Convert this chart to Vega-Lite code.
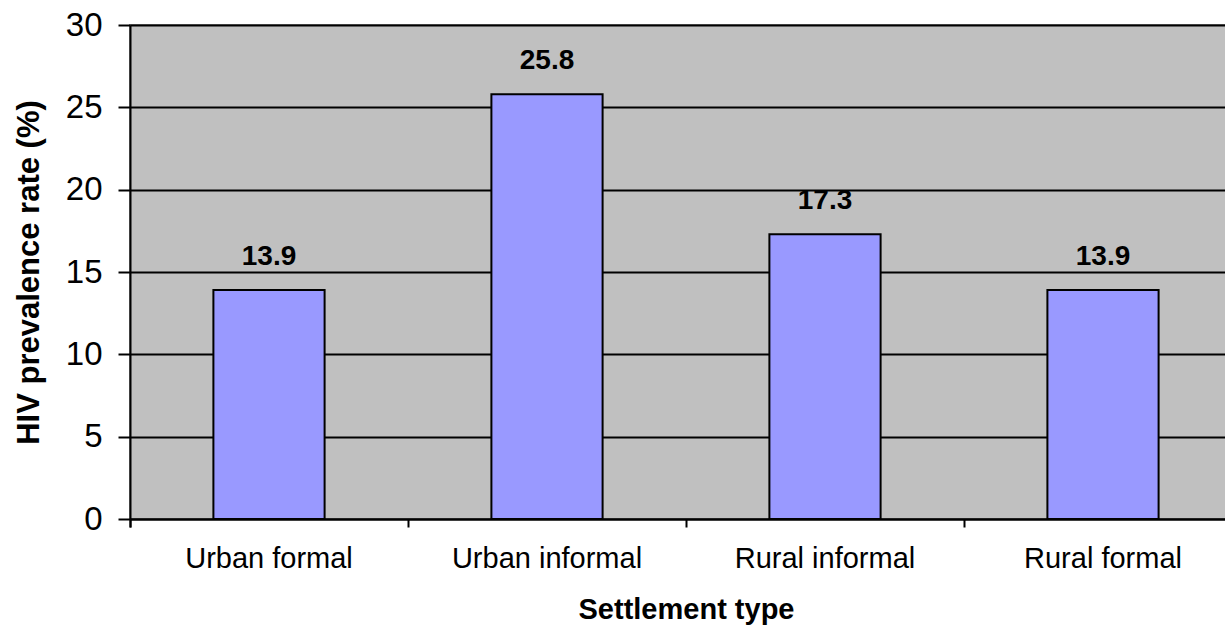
{
  "$schema": "https://vega.github.io/schema/vega-lite/v6.json",
  "width": 1112,
  "height": 494,
  "autosize": {"type": "none"},
  "padding": {"left": 130, "top": 25, "right": 0, "bottom": 111},
  "background": "white",
  "config": {
    "font": "Liberation Sans",
    "view": {"fill": "#C0C0C0", "stroke": "#808080", "strokeWidth": 2}
  },
  "data": {
    "values": [
      {"settlement": "Urban formal", "rate": 13.9},
      {"settlement": "Urban informal", "rate": 25.8},
      {"settlement": "Rural informal", "rate": 17.3},
      {"settlement": "Rural formal", "rate": 13.9}
    ]
  },
  "encoding": {
    "x": {
      "field": "settlement",
      "type": "nominal",
      "sort": null,
      "scale": {"paddingInner": 0, "paddingOuter": 0},
      "axis": {
        "title": "Settlement type",
        "titleFont": "Liberation Sans",
        "titleFontSize": 29,
        "titleFontWeight": "bold",
        "titleColor": "black",
        "titlePadding": 22,
        "labelAngle": 0,
        "labelFont": "Liberation Sans",
        "labelFontSize": 29,
        "labelColor": "black",
        "labelPadding": 17,
        "labelLimit": 0,
        "bandPosition": 0,
        "tickExtra": true,
        "tickSize": 8,
        "tickWidth": 2,
        "tickColor": "black",
        "domainColor": "black",
        "domainWidth": 2,
        "grid": false
      }
    },
    "y": {
      "field": "rate",
      "type": "quantitative",
      "scale": {"domain": [0, 30]},
      "axis": {
        "title": "HIV prevalence rate (%)",
        "titleFont": "Liberation Sans",
        "titleFontSize": 31,
        "titleFontWeight": "bold",
        "titleColor": "black",
        "titlePadding": 20,
        "titleLimit": 0,
        "values": [0, 5, 10, 15, 20, 25, 30],
        "labelFont": "Liberation Sans",
        "labelFontSize": 33,
        "labelColor": "black",
        "labelPadding": 16,
        "tickSize": 12,
        "tickWidth": 2,
        "tickColor": "black",
        "domainColor": "black",
        "domainWidth": 2,
        "grid": true,
        "gridColor": "black",
        "gridWidth": 2,
        "gridOpacity": 1
      }
    }
  },
  "layer": [
    {
      "mark": {"type": "bar", "fill": "#9999FF", "stroke": "black", "strokeWidth": 2, "width": {"band": 0.4}}
    },
    {
      "mark": {
        "type": "text",
        "font": "Liberation Sans",
        "fontSize": 28,
        "fontWeight": "bold",
        "color": "black",
        "baseline": "alphabetic",
        "dy": -25
      },
      "encoding": {"text": {"field": "rate", "type": "quantitative", "format": ".1f"}}
    }
  ]
}
